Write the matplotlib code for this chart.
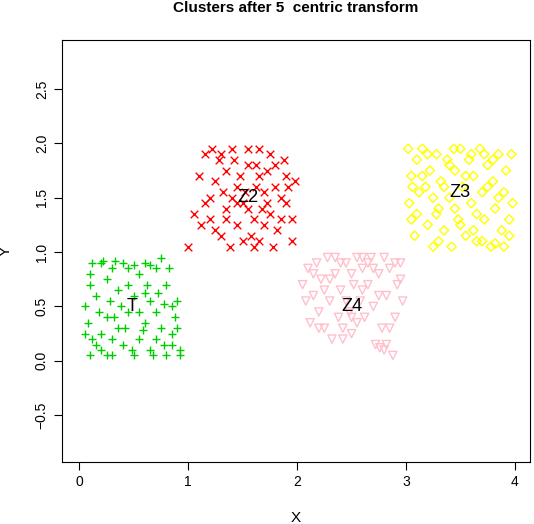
import matplotlib
matplotlib.use("Agg")
import matplotlib.pyplot as plt

plt.rcParams['font.family'] = ['Liberation Sans', 'DejaVu Sans']

T = [(0.1,0.8),(0.2,0.9),(0.3,0.85),(0.15,0.6),(0.05,0.5),(0.08,0.35),(0.12,0.2),(0.2,0.1),(0.1,0.05),(0.3,0.05),
     (0.4,0.15),(0.35,0.3),(0.25,0.4),(0.45,0.45),(0.5,0.6),(0.55,0.8),(0.6,0.9),(0.7,0.85),(0.75,0.95),(0.8,0.7),
     (0.85,0.5),(0.9,0.3),(0.92,0.1),(0.8,0.05),(0.65,0.1),(0.55,0.2),(0.6,0.35),(0.7,0.45),(0.75,0.3),(0.65,0.55),
     (0.45,0.7),(0.35,0.65),(0.25,0.75),(0.18,0.45),(0.3,0.2),(0.5,0.05),(0.7,0.2),(0.85,0.15),(0.9,0.55),(0.4,0.9),
     (0.5,0.88),(0.65,0.88),(0.2,0.25),(0.15,0.15),(0.38,0.5),(0.55,0.45),(0.82,0.85),(0.1,0.7),(0.28,0.55),(0.62,0.7),
     (0.72,0.62),(0.42,0.3),(0.22,0.92),(0.33,0.92),(0.88,0.4),(0.05,0.25),(0.48,0.1),(0.78,0.52),(0.58,0.28),(0.92,0.05),
     (0.25,0.05),(0.68,0.05),(0.12,0.9),(0.45,0.85),(0.6,0.62),(0.32,0.4),(0.85,0.25),(0.78,0.15)]
Z2 = [(1.0,1.05),(1.05,1.35),(1.1,1.7),(1.15,1.9),(1.2,1.5),(1.25,1.2),(1.3,1.9),(1.35,1.4),(1.4,1.95),(1.45,1.6),
      (1.5,1.1),(1.55,1.8),(1.6,1.05),(1.65,1.7),(1.7,1.25),(1.75,1.9),(1.8,1.6),(1.85,1.3),(1.9,1.7),(1.95,1.1),
      (1.2,1.3),(1.3,1.15),(1.4,1.5),(1.5,1.45),(1.6,1.3),(1.7,1.55),(1.8,1.8),(1.9,1.45),(1.55,1.95),(1.65,1.95),
      (1.25,1.65),(1.35,1.75),(1.45,1.25),(1.55,1.4),(1.62,1.6),(1.72,1.75),(1.82,1.2),(1.92,1.6),(1.98,1.65),(1.15,1.45),
      (1.28,1.85),(1.38,1.05),(1.48,1.7),(1.58,1.15),(1.68,1.4),(1.78,1.05),(1.88,1.85),(1.12,1.25),(1.42,1.85),(1.52,1.55),
      (1.62,1.8),(1.72,1.45),(1.22,1.95),(1.32,1.55),(1.85,1.5),(1.95,1.3),(1.65,1.1),(1.75,1.35),(1.45,1.45),(1.35,1.3)]
Z3 = [(3.02,1.95),(3.05,1.7),(3.03,1.45),(3.05,1.3),(3.08,1.15),(3.1,1.85),(3.12,1.55),(3.15,1.95),(3.18,1.6),(3.2,1.25),
      (3.22,1.75),(3.25,1.05),(3.28,1.9),(3.3,1.4),(3.32,1.65),(3.35,1.2),(3.38,1.85),(3.4,1.5),(3.42,1.05),(3.45,1.75),
      (3.48,1.3),(3.5,1.95),(3.52,1.6),(3.55,1.15),(3.58,1.85),(3.6,1.45),(3.62,1.7),(3.65,1.1),(3.68,1.95),(3.7,1.55),
      (3.72,1.3),(3.75,1.8),(3.78,1.05),(3.8,1.65),(3.82,1.4),(3.85,1.9),(3.88,1.2),(3.9,1.55),(3.92,1.75),(3.95,1.3),
      (3.98,1.45),(3.97,1.9),(3.1,1.35),(3.2,1.9),(3.3,1.1),(3.4,1.8),(3.5,1.25),(3.6,1.9),(3.7,1.1),(3.8,1.85),
      (3.9,1.05),(3.15,1.7),(3.25,1.5),(3.35,1.6),(3.45,1.4),(3.55,1.7),(3.65,1.35),(3.75,1.6),(3.85,1.5),(3.95,1.15),
      (3.06,1.6),(3.44,1.95),(3.62,1.2),(3.82,1.08),(3.72,1.9),(3.28,1.35)]
Z4 = [(2.05,0.7),(2.08,0.55),(2.1,0.85),(2.12,0.35),(2.15,0.6),(2.18,0.9),(2.2,0.45),(2.22,0.75),(2.25,0.3),(2.28,0.95),
      (2.3,0.55),(2.32,0.2),(2.35,0.8),(2.38,0.4),(2.4,0.65),(2.42,0.3),(2.45,0.9),(2.48,0.45),(2.5,0.25),(2.52,0.7),
      (2.55,0.95),(2.58,0.55),(2.6,0.85),(2.62,0.4),(2.65,0.7),(2.68,0.95),(2.7,0.5),(2.72,0.15),(2.75,0.8),(2.78,0.3),
      (2.8,0.1),(2.82,0.6),(2.85,0.85),(2.88,0.05),(2.9,0.4),(2.92,0.7),(2.95,0.9),(2.97,0.55),(2.15,0.8),(2.25,0.65),
      (2.35,0.95),(2.45,0.55),(2.55,0.35),(2.65,0.9),(2.75,0.6),(2.85,0.3),(2.95,0.75),(2.3,0.75),(2.4,0.9),(2.5,0.8),
      (2.6,0.65),(2.7,0.85),(2.8,0.95),(2.9,0.9),(2.42,0.2),(2.5,0.4),(2.82,0.15),(2.76,0.12),(2.2,0.3),(2.6,0.95)]

clusters = [("T", T, "+", "#00CD00", (0.48, 0.5)),
            ("Z2", Z2, "x", "red", (1.55, 1.5)),
            ("Z3", Z3, "D", "yellow", (3.5, 1.55)),
            ("Z4", Z4, "v", "pink", (2.5, 0.5))]

fig = plt.figure(figsize=(5.34, 5.24), dpi=100)
ax = fig.add_axes([62/534, 62/524, 468/534, 422/524])
for name, pts, m, c, lab in clusters:
    xs = [p[0] for p in pts]; ys = [p[1] for p in pts]
    if m in "+x":
        ax.scatter(xs, ys, marker=m, c=c, s=30, linewidths=1)
    else:
        ax.scatter(xs, ys, marker=m, facecolors='none', edgecolors=c, s=22 if m == "D" else 35, linewidths=1)
    ax.text(lab[0], lab[1], name, fontsize=13, ha='center', va='center')

ax.set_xlim(-0.16, 4.14)
ax.set_ylim(-0.93, 2.95)
ax.set_xticks([0, 1, 2, 3, 4])
ax.set_yticks([-0.5, 0, 0.5, 1, 1.5, 2, 2.5])
ax.set_yticklabels(["−0.5", "0.0", "0.5", "1.0", "1.5", "2.0", "2.5"], rotation=90, va='center')
ax.tick_params(labelsize=10, length=6)
ax.set_xlabel("X", fontsize=11, labelpad=16)
ax.set_ylabel("Y", fontsize=11, labelpad=16)
fig.text(296/534, 1 - 8/524, "Clusters after 5  centric transform", fontsize=11,
         fontweight='bold', ha='center', va='center')
fig.savefig("out.png", dpi=100)
